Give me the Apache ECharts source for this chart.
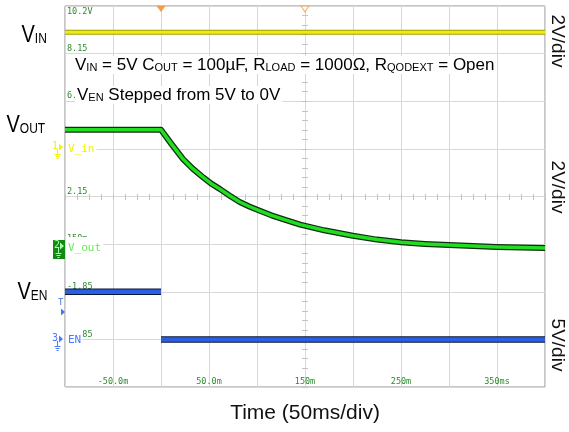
<!DOCTYPE html>
<html><head><meta charset="utf-8">
<script src="https://cdn.jsdelivr.net/npm/echarts@6/dist/echarts.min.js"></script>
<style>html,body{margin:0;padding:0;background:#fff}#c{width:569px;height:432px}</style>
</head><body><div id="c"></div>
<script>
// ---- data ----
const xTickLabels = {'-50':'-50.0m','50':'50.0m','150':'150m','250':'250m','350':'350ms'};
const yDivLabels = ['', '-3.85', '-1.85', '150m', '2.15', '4.15', '6.15', '8.15', ''];
const topScaleLabel = '10.2V';
const vinTime = [-100, 400];
const vinVolts = [4.9, 4.9];
const voutTime = [-100, 0, 11, 23, 33, 44, 52, 61.5, 72, 82, 92, 103, 115, 127, 145, 170, 200, 225, 250, 275, 300, 325, 350, 375, 400];
const voutVolts = [5.0, 5.0, 4.4, 3.77, 3.37, 3.0, 2.75, 2.51, 2.22, 1.97, 1.78, 1.60, 1.41, 1.25, 1.02, 0.78, 0.55, 0.39, 0.28, 0.21, 0.16, 0.12, 0.08, 0.06, 0.04];
const venTime = [-100, 0, 0, 0, 400];
const venVolts = [5, 5, null, 0, 0];
const triggerTimes = [0];
const cursorTimes = [150];

// ---- channel scaling (scope screen: 8 vertical divisions) ----
const CH = { vin:{offset:5, vPerDiv:2}, vout:{offset:2.9, vPerDiv:2}, ven:{offset:1, vPerDiv:5} };
function toDiv(times, volts, ch){
  return times.map((t,i)=> volts[i]==null ? [t,'-'] : [t, ch.offset + volts[i]/ch.vPerDiv]);
}
function trace(name, data, outline, inner, wOut, wIn){
  const base = {type:'line', name, data, showSymbol:false, symbol:'none', smooth:false,
    animation:false, silent:true};
  return [
    Object.assign({}, base, {z:3, lineStyle:{color:outline, width:wOut, cap:'butt', join:'round'}}),
    Object.assign({}, base, {z:4, lineStyle:{color:inner, width:wIn, cap:'butt', join:'round'}})
  ];
}

const MONO = '"DejaVu Sans Mono", monospace';
const SANS = '"Liberation Sans", Arial, sans-serif';
const chart = echarts.init(document.getElementById('c'), null, {renderer:'canvas'});

const tickAxisX = (inside)=>({type:'value', gridIndex:0, position:'bottom', offset:-190, min:-100, max:400, interval:50,
  axisLine:{show:false}, axisLabel:{show:false}, splitLine:{show:false},
  axisTick:{show:true, inside, length:3, lineStyle:{color:'#c4c4c4'}},
  minorTick:{show:true, splitNumber:4, length:3, lineStyle:{color:'#c4c4c4'}}});
const tickAxisY = (inside)=>({type:'value', gridIndex:0, position:'left', offset:-240, min:0, max:8, interval:1,
  axisLine:{show:false}, axisLabel:{show:false}, splitLine:{show:false},
  axisTick:{show:true, inside, length:3, lineStyle:{color:'#c4c4c4'}},
  minorTick:{show:true, splitNumber:5, length:3, lineStyle:{color:'#c4c4c4'}}});

const sub = (s)=>`{s|${s}}`;
const richBig = {
  v:{fontSize:20, fontFamily:SANS, color:'#111', verticalAlign:'bottom', lineHeight:24},
  s:{fontSize:12, fontFamily:SANS, color:'#111', verticalAlign:'bottom', lineHeight:24, padding:[0,0,1,0]}
};
const richNote = {
  t:{fontSize:17, fontFamily:SANS, color:'#111', verticalAlign:'bottom', lineHeight:18},
  s:{fontSize:11, fontFamily:SANS, color:'#111', verticalAlign:'bottom', lineHeight:18, padding:[0,0,1,0]}
};

function groundSym(x, y, color){
  return [
    {type:'line', shape:{x1:x, y1:y, x2:x, y2:y+5}, style:{stroke:color, lineWidth:1}},
    {type:'line', shape:{x1:x-3, y1:y+5.5, x2:x+3, y2:y+5.5}, style:{stroke:color, lineWidth:1}},
    {type:'line', shape:{x1:x-2, y1:y+7.5, x2:x+2, y2:y+7.5}, style:{stroke:color, lineWidth:1}},
    {type:'line', shape:{x1:x-1, y1:y+9.5, x2:x+1, y2:y+9.5}, style:{stroke:color, lineWidth:1}}
  ];
}
function arrowRight(x, y, color){
  return {type:'polygon', shape:{points:[[x,y-3.5],[x+4,y],[x,y+3.5]]}, style:{fill:color}};
}

const graphics = [
  // left channel names
  {type:'text', x:21.5, y:19, scaleY:1.2, style:{text:'{v|V}'+sub('IN'), rich:richBig}},
  {type:'text', x:6.5, y:109, scaleY:1.2, style:{text:'{v|V}'+sub('OUT'), rich:richBig}},
  {type:'text', x:17.5, y:276, scaleY:1.2, style:{text:'{v|V}'+sub('EN'), rich:richBig}},
  // right volts/div
  {type:'text', x:557, y:41, rotation:-Math.PI/2, style:{text:'2V/div', font:'19px '+SANS, fill:'#111', align:'center', verticalAlign:'middle'}},
  {type:'text', x:557, y:187, rotation:-Math.PI/2, style:{text:'2V/div', font:'19px '+SANS, fill:'#111', align:'center', verticalAlign:'middle'}},
  {type:'text', x:557, y:345, rotation:-Math.PI/2, style:{text:'5V/div', font:'19px '+SANS, fill:'#111', align:'center', verticalAlign:'middle'}},
  // top scale label
  {type:'text', x:67, y:12, z:5, style:{text:topScaleLabel, font:'8.5px '+MONO, fill:'#2e8a2e', verticalAlign:'middle'}},
  // in-plot notes
  {type:'text', x:73, y:56, z:10, style:{text:'{t|V}'+sub('IN')+'{t| = 5V C}'+sub('OUT')+'{t| = 100µF, R}'+sub('LOAD')+'{t| = 1000Ω, R}'+sub('QODEXT')+'{t| = Open}',
     rich:richNote, backgroundColor:'#fff', padding:[0,2,0,2]}},
  {type:'text', x:75, y:86, z:10, style:{text:'{t|V}'+sub('EN')+'{t| Stepped from 5V to 0V}', rich:richNote, backgroundColor:'#fff', padding:[0,2,0,2]}},
  // channel markers
  {type:'text', x:66, y:149, z:10, style:{text:'V_in', font:'11px '+MONO, fill:'#f2f200', verticalAlign:'middle', backgroundColor:'#fff', padding:[11,2,2,2]}},
  {type:'text', x:52, y:146, z:10, style:{text:'1', font:'10px '+MONO, fill:'#f2f200', verticalAlign:'middle'}},
  Object.assign(arrowRight(59,147,'#f2f200'),{z:10}),
  ...groundSym(57.5,149,'#f2f200').map(g=>Object.assign(g,{z:10})),
  {type:'rect', shape:{x:53, y:240, width:12, height:19}, z:10, style:{fill:'#118a11'}},
  {type:'text', x:66, y:248, z:10, style:{text:'V_out', font:'11px '+MONO, fill:'#66ee55', verticalAlign:'middle', backgroundColor:'#fff', padding:[9,2,2,2]}},
  {type:'text', x:54, y:245, z:11, style:{text:'2', font:'10px '+MONO, fill:'#aaffaa', verticalAlign:'middle'}},
  Object.assign(arrowRight(60,246,'#aaffaa'),{z:11}),
  ...groundSym(58.5,248,'#aaffaa').map(g=>Object.assign(g,{z:11})),
  {type:'text', x:58, y:303, z:10, style:{text:'T', font:'9px '+MONO, fill:'#4477ee', verticalAlign:'middle'}},
  Object.assign(arrowRight(61,312,'#4477ee'),{z:10}),
  {type:'text', x:66, y:340, z:10, style:{text:'EN', font:'11px '+MONO, fill:'#4a7aff', verticalAlign:'middle', backgroundColor:'#fff', padding:[9,1,2,2]}},
  {type:'text', x:52, y:338, z:10, style:{text:'3', font:'10px '+MONO, fill:'#4a7aff', verticalAlign:'middle'}},
  Object.assign(arrowRight(59,339,'#4a7aff'),{z:10}),
  ...groundSym(57.5,341,'#4a7aff').map(g=>Object.assign(g,{z:10}))
];

const option = {
  animation:false,
  backgroundColor:'#fff',
  grid:{left:65, right:24, top:6, bottom:45, show:true, borderColor:'#8c8c8c', borderWidth:1, backgroundColor:'#fff'},
  xAxis:[
    {type:'value', min:-100, max:400, interval:50,
     name:'Time (50ms/div)', nameLocation:'middle', nameGap:26,
     nameTextStyle:{fontSize:21, fontFamily:SANS, color:'#111', verticalAlign:'middle'},
     axisLine:{show:false}, axisTick:{show:false},
     axisLabel:{inside:true, margin:1, fontSize:8.5, fontFamily:MONO, color:'#2e8a2e',
       formatter:(v)=> xTickLabels[String(v)] || ''},
     splitLine:{show:true, lineStyle:{color:'#d8d8d8', width:1}}},
    tickAxisX(true), tickAxisX(false)
  ],
  yAxis:[
    {type:'value', min:0, max:8, interval:1,
     axisLine:{show:false}, axisTick:{show:false},
     axisLabel:{inside:true, margin:2, fontSize:8.5, fontFamily:MONO, color:'#2e8a2e',
       verticalAlign:'bottom', lineHeight:10,
       formatter:(v)=> yDivLabels[Math.round(v)] || ''},
     splitLine:{show:true, lineStyle:{color:'#d8d8d8', width:1}}},
    tickAxisY(true), tickAxisY(false)
  ],
  series:[
    ...trace('V_in', toDiv(vinTime, vinVolts, CH.vin), '#a0a000', '#ecec14', 5, 3),
    ...trace('V_out', toDiv(voutTime, voutVolts, CH.vout), '#0e300e', '#22dd22', 6, 3.5),
    ...trace('EN', toDiv(venTime, venVolts, CH.ven), '#0a1838', '#2a5ee6', 6.5, 4.5),
    {type:'scatter', data:triggerTimes.map(t=>[t,8]), symbol:'triangle', symbolRotate:180, symbolSize:[9,6], symbolOffset:[0,3],
     itemStyle:{color:'#f08a20'}, silent:true, z:6},
    {type:'scatter', data:cursorTimes.map(t=>[t,8]), symbol:'triangle', symbolRotate:180, symbolSize:[8,6], symbolOffset:[0,3],
     itemStyle:{color:'#fff', borderColor:'#f0a050', borderWidth:1}, silent:true, z:6}
  ],
  graphic: graphics
};
chart.setOption(option);
</script></body></html>
